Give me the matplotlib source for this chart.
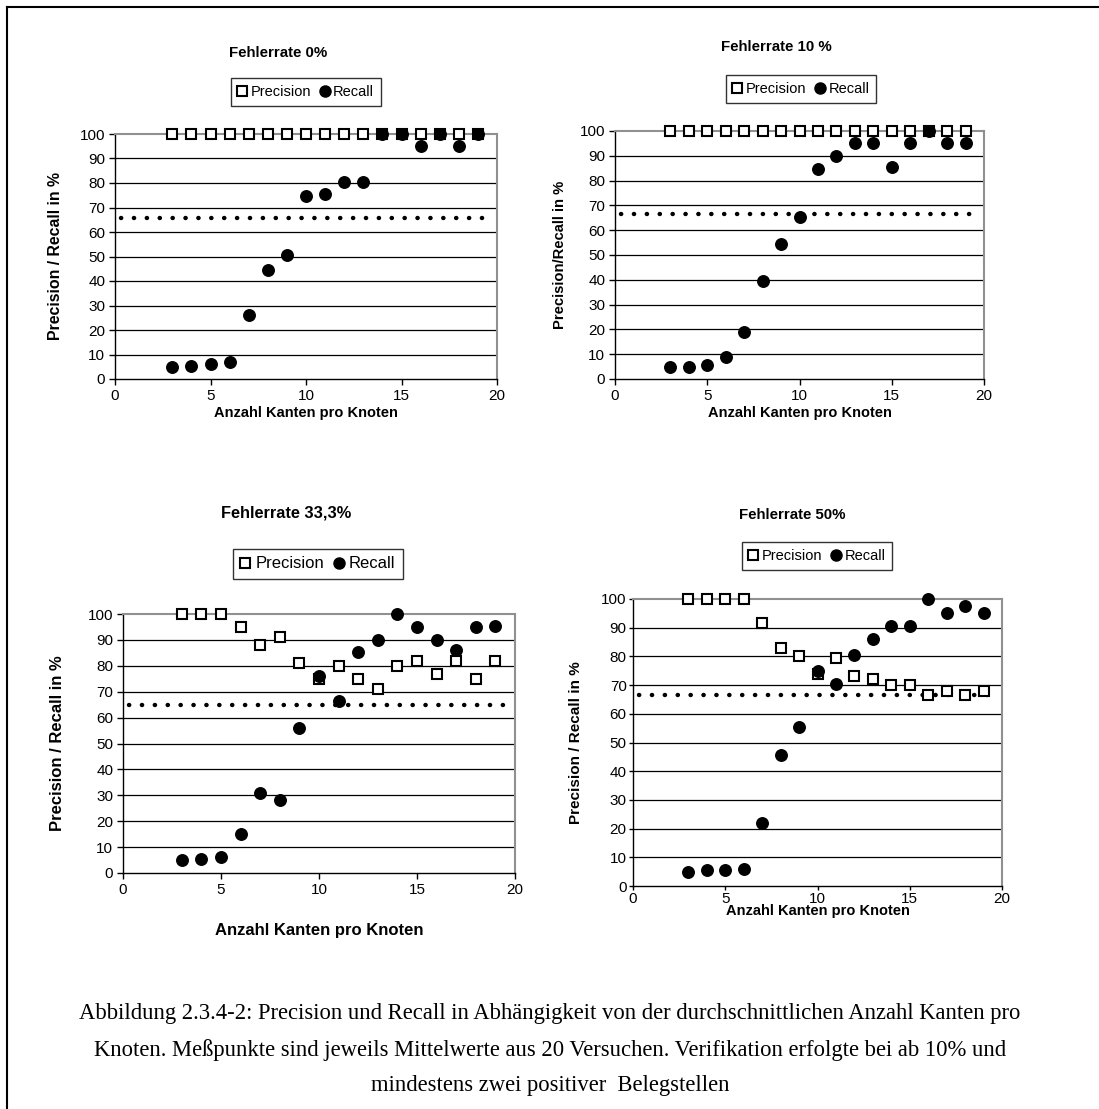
import matplotlib
matplotlib.use("Agg")
import matplotlib.pyplot as plt
from matplotlib.lines import Line2D

W, H = 1099, 1109
plt.rcParams['font.family'] = ['Liberation Sans', 'DejaVu Sans']

x_vals = list(range(3, 20))
titles = ["Fehlerrate 0%", "Fehlerrate 10 %", "Fehlerrate 33,3%", "Fehlerrate 50%"]
ylabels = ["Precision / Recall in %", "Precision/Recall in %",
           "Precision / Recall in %", "Precision / Recall in %"]
xlabel = "Anzahl Kanten pro Knoten"

precision_0 = [100]*17
recall_0 = [5, 5.5, 6, 7, 26, 44.5, 50.5, 74.5, 75.5, 80.5, 80.5, 100, 100, 95, 100, 95, 100]
precision_10 = [100]*17
recall_10 = [5, 5, 5.5, 9, 19, 39.5, 54.5, 65.5, 84.5, 90, 95, 95, 85.5, 95, 100, 95, 95]
precision_33 = [100, 100, 100, 95, 88, 91, 81, 75, 80, 75, 71, 80, 82, 77, 82, 75, 82]
recall_33 = [5, 5.5, 6, 15, 31, 28, 56, 76, 66.5, 85.5, 90, 100, 95, 90, 86, 95, 95.5]
precision_50 = [100, 100, 100, 100, 91.5, 83, 80, 74, 79.5, 73, 72, 70, 70, 66.5, 68, 66.5, 68]
recall_50 = [5, 5.5, 5.5, 6, 22, 45.5, 55.5, 75, 70.5, 80.5, 86, 90.5, 90.5, 100, 95, 97.5, 95]
threshold = [65.7, 66.4, 64.9, 66.5]
threshold_x = [0.3, 19.8]

precisions = [precision_0, precision_10, precision_33, precision_50]
recalls = [recall_0, recall_10, recall_33, recall_50]
x_ticks = [0, 5, 10, 15, 20]
y_ticks = list(range(0, 101, 10))

# pixel layout: left, right, top, bottom
rects = [(115, 497, 134, 379), (615, 984, 131, 379), (123, 515, 614, 873), (633, 1002, 599, 886)]
title_pos = [(278, 53), (776, 47), (286, 513), (792, 515)]
legend_pos = [(306, 92), (801, 89), (318, 564), (817, 556)]
ylabel_x = [63, 567, 65, 583]
xlabel_y = [413, 413, 930, 911]
ylabel_size = [11.4, 10.6, 12, 11]
xlabel_size = [10.5, 10.5, 12, 10.5]
title_size = [10.8, 10.8, 11.8, 10.8]
legend_size = [10.5, 10.5, 12, 10.5]
tick_pad = [3, 3, 3, 1.5]
tick_len = [4, 4, 4, 3]

fig = plt.figure(figsize=(W/100, H/100), dpi=100)
fig.patch.set_facecolor('white')

# partial frame around the figure (top and left)
fig.add_artist(Line2D([7/W, 7/W], [0, 1 - 7/H], transform=fig.transFigure, color='black', lw=1.5))
fig.add_artist(Line2D([7/W, 1], [1 - 7/H, 1 - 7/H], transform=fig.transFigure, color='black', lw=1.5))

for i in range(4):
    l, r, t, b = rects[i]
    ax = fig.add_axes([l/W, 1 - b/H, (r - l)/W, (b - t)/H])
    ax.set_xlim(0, 20)
    ax.set_ylim(0, 100)
    ax.set_xticks(x_ticks)
    ax.set_yticks(y_ticks)
    ax.tick_params(axis='both', direction='out', length=tick_len[i], width=1,
                   labelsize=11, pad=tick_pad[i])
    for yv in y_ticks[1:-1]:
        ax.axhline(yv, color='black', lw=0.9, zorder=1)
    for s in ['top', 'right']:
        ax.spines[s].set_color('#909090')
        ax.spines[s].set_linewidth(1.5)
    for s in ['left', 'bottom']:
        ax.spines[s].set_color('black')
        ax.spines[s].set_linewidth(1.0)
    ax.plot(threshold_x, [threshold[i]]*2, color='black', lw=3.2,
            dashes=(0.05, 2.85), dash_capstyle='round', zorder=2)
    ax.plot(x_vals, precisions[i], 's', ms=7.5, mfc='white', mec='black', mew=1.5,
            zorder=3, clip_on=False)
    ax.plot(x_vals, recalls[i], 'o', ms=8.3, mfc='black', mec='black', zorder=4,
            clip_on=False)
    ax.set_ylabel(ylabels[i], fontsize=ylabel_size[i], fontweight='bold')
    ax.yaxis.set_label_coords((ylabel_x[i] - l)/(r - l), 0.5)
    ax.set_xlabel(xlabel, fontsize=xlabel_size[i], fontweight='bold')
    ax.xaxis.set_label_coords(0.5, -(xlabel_y[i] - b)/(b - t))
    ax.xaxis.label.set_va('center')

    tx, ty = title_pos[i]
    fig.text(tx/W, 1 - ty/H, titles[i], ha='center', va='center',
             fontsize=title_size[i], fontweight='bold')

    handles = [Line2D([], [], ls='none', marker='s', ms=7.5, mfc='white', mec='black', mew=1.5),
               Line2D([], [], ls='none', marker='o', ms=8, mfc='black', mec='black')]
    lx, ly = legend_pos[i]
    leg = fig.legend(handles, ['Precision', 'Recall'], loc='center', ncol=2,
                     bbox_to_anchor=(lx/W, 1 - ly/H), fontsize=legend_size[i], frameon=True,
                     fancybox=False, edgecolor='black', handlelength=0.6, handletextpad=0.3,
                     columnspacing=0.6, borderpad=0.45, borderaxespad=0)
    leg.get_frame().set_linewidth(1.0)

caption = ["Abbildung 2.3.4-2: Precision und Recall in Abhängigkeit von der durchschnittlichen Anzahl Kanten pro",
           "Knoten. Meßpunkte sind jeweils Mittelwerte aus 20 Versuchen. Verifikation erfolgte bei ab 10% und",
           "mindestens zwei positiver  Belegstellen"]
cap_y = [1014, 1050, 1085]
for line, cy in zip(caption, cap_y):
    fig.text(550/W, 1 - cy/H, line, ha='center', va='center', fontsize=16.3,
             family=['Liberation Serif', 'DejaVu Serif'])

fig.savefig('out.png', dpi=100)
